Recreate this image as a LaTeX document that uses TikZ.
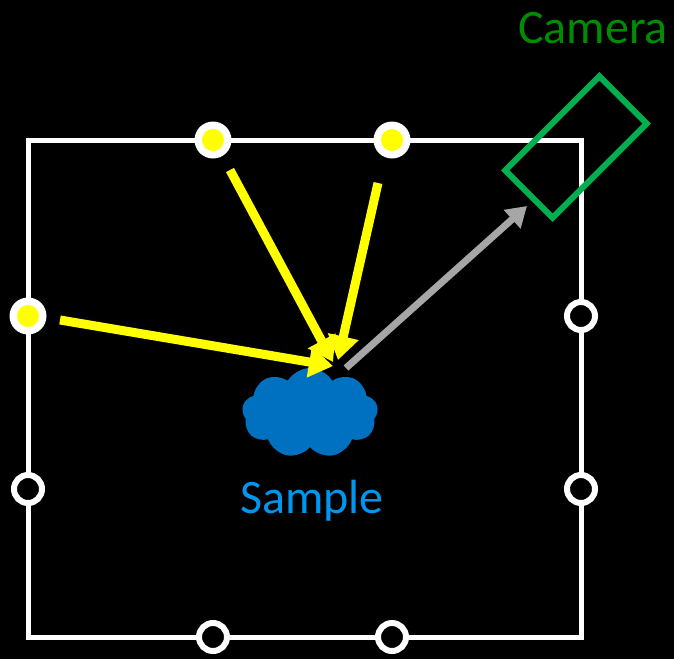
\documentclass[tikz,border=0pt]{standalone}
\usepackage{fontspec}
\setmainfont{Carlito}
\usetikzlibrary{arrows.meta,shapes.symbols}
\definecolor{lightyellow}{RGB}{255,255,0}
\definecolor{camgreen}{RGB}{0,176,80}
\definecolor{camtext}{RGB}{0,140,0}
\definecolor{cloudblue}{RGB}{0,112,192}
\definecolor{sampletext}{RGB}{0,150,240}
\definecolor{rayGray}{RGB}{166,166,166}
\begin{document}
\begin{tikzpicture}[x=1pt,y=-1pt,
  frame/.style={draw=white,line width=5pt},
  litlamp/.style={circle,fill=white,minimum size=37pt,inner sep=0pt,
    path picture={\fill[lightyellow] (path picture bounding box.center) circle (11pt);}},
  offlamp/.style={circle,draw=white,line width=6pt,fill=black,minimum size=28pt,inner sep=0pt},
  ray/.style={draw=lightyellow,line width=9pt,-{Triangle[width=30pt,length=24pt]}},
  view/.style={draw=rayGray,line width=7pt,-{Triangle[width=24pt,length=20pt]}},
  label/.style={font=\fontsize{48}{52}\selectfont,inner sep=0pt}]
  % canvas
  \fill[black] (0,0) rectangle (674,659);
  \useasboundingbox (0,0) rectangle (674,659);
  % lamp frame
  \draw[frame] (28,140) rectangle (581,637);
  % sample
  \node[cloud,cloud puffs=9,cloud puff arc=120,aspect=1.5,fill=cloudblue,
        minimum width=136pt,minimum height=90pt,inner sep=0pt] (sample) at (310,413) {};
  \node[label,text=sampletext] (sampleLabel) at (312,501) {Sample};
  % camera
  \node[draw=camgreen,line width=6pt,minimum width=133pt,minimum height=67pt,
        inner sep=0pt,rotate=45] (camera) at (576,147) {};
  \node[label,text=camtext] (cameraLabel) at (593,28) {Camera};
  % illumination rays and view ray
  \coordinate (r1s) at (230,170);
  \coordinate (r1e) at (333,362);
  \coordinate (r2s) at (378,183);
  \coordinate (r2e) at (338,360);
  \coordinate (r3s) at (60,320);
  \coordinate (r3e) at (333,366);
  \coordinate (vs) at (346,368);
  \coordinate (ve) at (527,206);
  \draw[ray] (r1s) -- (r1e);
  \draw[ray] (r2s) -- (r2e);
  \draw[ray] (r3s) -- (r3e);
  \draw[view] (vs) -- (ve);
  % lamps
  \node[litlamp] (lt1) at (213,140) {};
  \node[litlamp] (lt2) at (392,140) {};
  \node[litlamp] (ll1) at (28,316) {};
  \node[offlamp] (lr1) at (581,316) {};
  \node[offlamp] (ll2) at (28,489) {};
  \node[offlamp] (lr2) at (581,489) {};
  \node[offlamp] (lb1) at (213,637) {};
  \node[offlamp] (lb2) at (392,637) {};
\end{tikzpicture}
\end{document}
